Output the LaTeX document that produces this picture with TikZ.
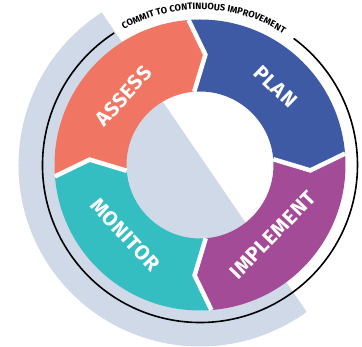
\documentclass[tikz,border=0pt]{standalone}
\usepackage{fontspec}
\setmainfont{Fira Sans}
\newfontfamily\labfont{Fira Sans}[LetterSpace=3]
\usetikzlibrary{decorations.text}
\definecolor{cassess}{HTML}{F07562}
\definecolor{cplan}{HTML}{3F5AA5}
\definecolor{cimpl}{HTML}{A44B97}
\definecolor{cmon}{HTML}{35BEC2}
\definecolor{cgrey}{HTML}{D0D9E7}
\tikzset{
  lab/.style={text=white, inner sep=0pt, font=\labfont\bfseries\fontsize{20.5}{20.5}\selectfont},
  gapline/.style={white, line width=4.5pt, line join=miter},
  ringline/.style={black, line width=1.6pt}
}
\begin{document}
\begin{tikzpicture}[x=1pt,y=1pt]
\useasboundingbox (-200,-182) rectangle (162,165);
% grey backdrop
\fill[cgrey] (122.8:181.5) arc[start angle=122.8,end angle=306,radius=181.5] -- cycle;
% ring segments
\foreach \a/\c in {94.5/cplan, 4.5/cimpl, -85.5/cmon, 184.5/cassess}{
  \fill[\c] (\a:145.5) arc[start angle=\a, end angle=\a-90, radius=145.5]
     -- ({\a-97.3}:110.5) -- ({\a-90}:73.5)
     arc[start angle=\a-90, end angle=\a, radius=73.5]
     -- ({\a-7.3}:110.5) -- cycle;
}
\foreach \a in {94.5, 4.5, -85.5, 184.5}{
  \draw[gapline] (\a:145.5) -- ({\a-7.3}:110.5) -- (\a:73.5);
}
% outer circle arc
\draw[ringline] (123:157.5) arc[start angle=123, end angle=413.5, radius=157.5];
% arc text
\path[decorate, decoration={text along path, text align=center,
  text={|\bfseries\fontsize{9.2}{9.2}\selectfont|COMMIT TO CONTINUOUS IMPROVEMENT}}]
  (125:155.5) arc[start angle=125, end angle=52, radius=155.5];
% labels
\node[lab, rotate=48] (assess) at (138:103) {ASSESS};
\node[lab, rotate=-44] (plan) at (46:109) {PLAN};
\node[lab, rotate=46] (implement) at (-44:101) {IMPLEMENT};
\node[lab, rotate=-47] (monitor) at (223:102) {MONITOR};
\end{tikzpicture}
\end{document}
